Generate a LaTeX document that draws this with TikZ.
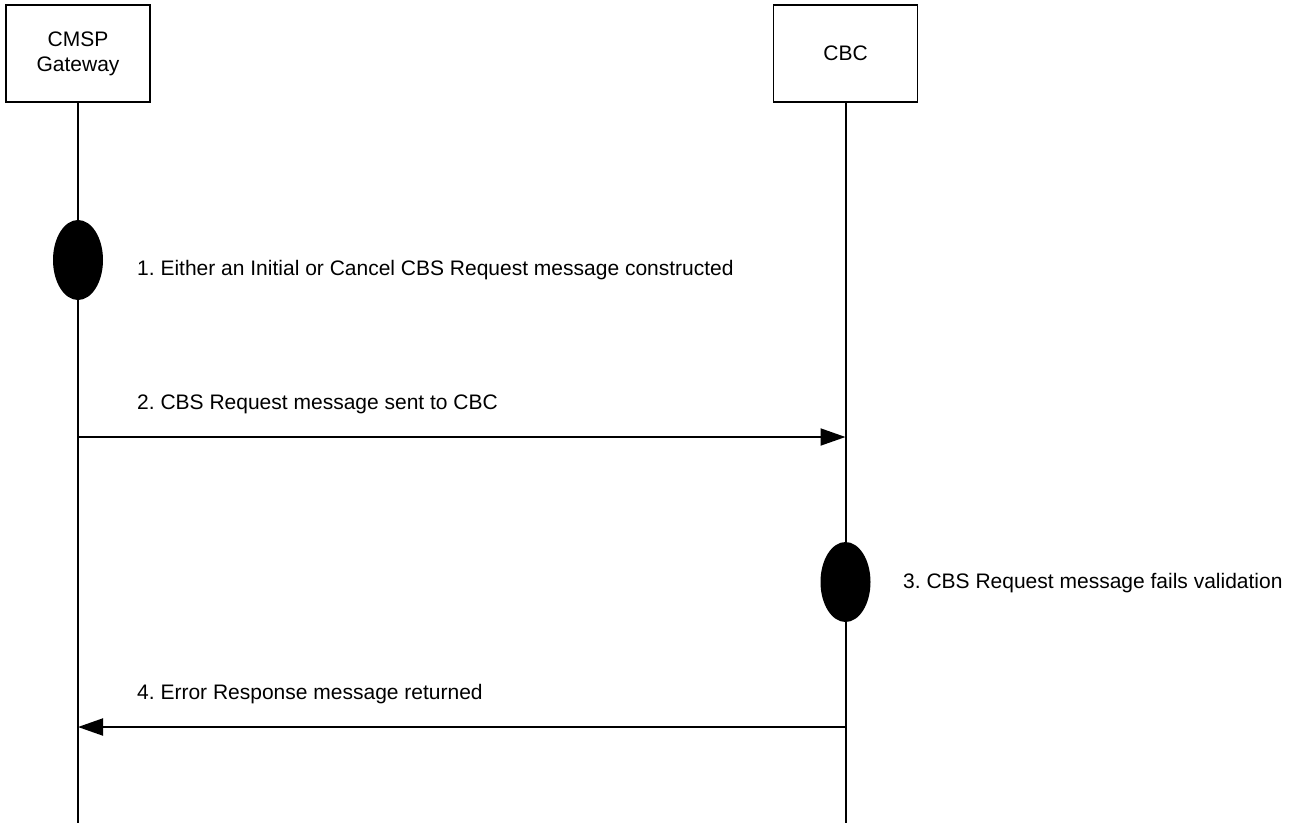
\documentclass[tikz,border=0pt]{standalone}
\usepackage{fontspec}
\setmainfont{Liberation Sans}
\usetikzlibrary{arrows.meta,positioning,shapes.geometric}
\frenchspacing

\begin{document}
\begin{tikzpicture}[
  x=1pt, y=-1pt,
  every node/.style={font=\fontsize{21}{25}\selectfont},
  entity/.style={draw, line width=1.5pt, minimum width=144pt, minimum height=97pt, align=center, inner sep=0pt},
  event/.style={ellipse, fill=black, minimum width=50pt, minimum height=80pt, inner sep=0pt},
  life/.style={line width=2pt},
  arr/.style={-{Triangle[length=25pt, width=17pt]}, line width=2pt},
  lbl/.style={anchor=west, inner sep=0pt}
]
  \useasboundingbox (0,0) rectangle (1299,823);

  \node[entity] (GW) at (78,53.5) {CMSP\\Gateway};
  \node[entity] (CBC) at (845.5,53.5) {CBC};

  \coordinate (GWend) at (78,823);
  \coordinate (CBCend) at (845.5,823);
  \draw[life] (GW.south) -- (GWend);
  \draw[life] (CBC.south) -- (CBCend);

  \node[event] (E1) at (78,260) {};
  \node[lbl] (T1) at (137,270) {1. Either an Initial or Cancel CBS Request message constructed};

  \coordinate (GWa) at (78,437);
  \coordinate (CBCa) at (845.5,437);
  \draw[arr] (GWa) -- (CBCa);
  \node[lbl] (T2) at (137,404) {2. CBS Request message sent to CBC};

  \node[event] (E3) at (845.5,582) {};
  \node[lbl] (T3) at (903,583) {3. CBS Request message fails validation};

  \coordinate (CBCb) at (845.5,727);
  \coordinate (GWb) at (78,727);
  \draw[arr] (CBCb) -- (GWb);
  \node[lbl] (T4) at (137,694) {4. Error Response message returned};
\end{tikzpicture}
\end{document}
